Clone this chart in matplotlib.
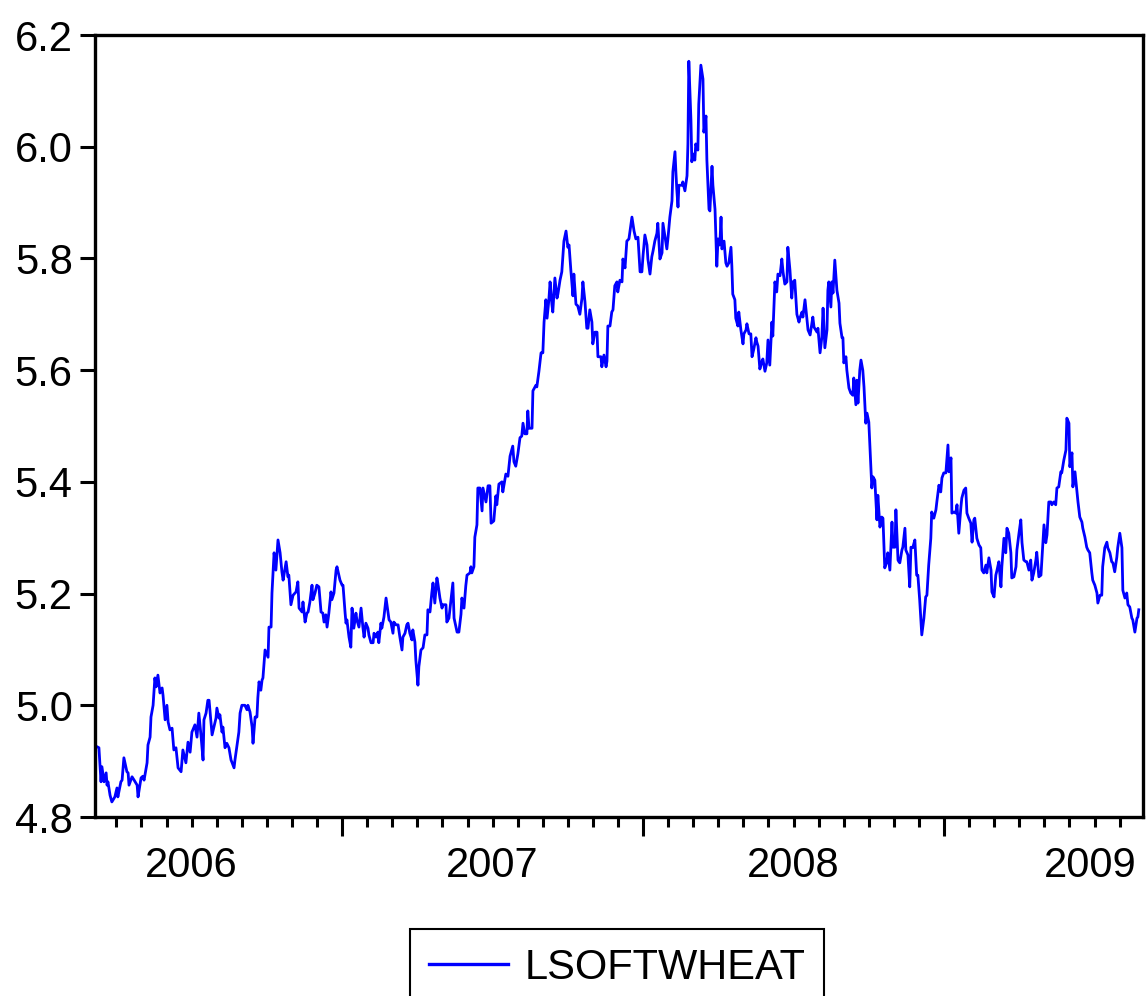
import matplotlib
matplotlib.use("Agg")
import matplotlib.pyplot as plt
import matplotlib.transforms as mtransforms
from matplotlib.lines import Line2D
import numpy as np

plt.rcParams['font.family'] = ['Liberation Sans', 'DejaVu Sans']

# time in years since 2006-01-01 (decimal years)
t_since_2006 = [
0.185,0.192,0.199,0.202,0.209,0.216,0.219,0.222,0.229,0.235,0.245,0.252,0.255,0.265,0.269,0.275,0.285,0.289,0.292,0.302,
0.309,0.319,0.322,0.332,0.338,0.342,0.352,0.355,0.362,0.365,0.372,0.378,0.382,0.388,0.395,0.402,0.405,0.412,0.418,0.422,
0.428,0.435,0.441,0.448,0.455,0.465,0.471,0.481,0.488,0.495,0.501,0.511,0.518,0.524,0.531,0.538,0.541,0.548,0.554,0.558,
0.568,0.574,0.581,0.584,0.591,0.594,0.601,0.604,0.611,0.617,0.624,0.631,0.634,0.641,0.644,0.651,0.657,0.661,0.667,0.677,
0.684,0.687,0.694,0.701,0.704,0.711,0.717,0.720,0.724,0.730,0.734,0.737,0.744,0.754,0.757,0.764,0.767,0.774,0.780,0.784,
0.787,0.794,0.800,0.804,0.814,0.820,0.823,0.830,0.837,0.847,0.853,0.857,0.867,0.870,0.877,0.883,0.887,0.893,0.900,0.903,
0.910,0.916,0.923,0.930,0.936,0.940,0.946,0.950,0.956,0.963,0.966,0.973,0.980,0.983,0.993,1.000,1.003,1.010,1.013,1.016,
1.023,1.029,1.033,1.039,1.046,1.049,1.056,1.063,1.069,1.073,1.079,1.086,1.089,1.096,1.103,1.106,1.113,1.119,1.122,1.129,
1.132,1.139,1.146,1.149,1.156,1.162,1.169,1.172,1.179,1.186,1.192,1.199,1.202,1.209,1.215,1.219,1.225,1.232,1.235,1.242,
1.245,1.252,1.255,1.262,1.269,1.275,1.282,1.285,1.292,1.298,1.302,1.308,1.315,1.318,1.325,1.332,1.335,1.345,1.348,1.355,
1.362,1.368,1.372,
1.382,1.388,1.395,1.398,1.405,1.411,1.415,1.425,1.428,1.431,1.438,1.441,1.448,1.451,1.458,1.465,1.468,1.478,1.485,1.491,
1.495,1.504,1.511,1.514,1.521,1.531,1.534,1.544,1.551,1.558,1.567,1.571,1.577,1.584,1.591,1.597,1.601,1.607,1.614,1.617,
1.621,1.631,1.634,1.644,1.647,1.654,1.661,1.667,1.671,1.677,1.681,1.687,1.691,1.697,1.700,1.707,1.714,1.717,1.724,1.730,
1.737,1.744,1.750,1.754,1.760,1.767,1.770,1.777,1.783,1.790,1.797,1.800,1.807,1.813,1.817,1.823,1.830,1.833,1.840,1.847,
1.850,1.860,1.863,1.870,1.877,1.880,1.883,1.890,1.896,1.900,1.906,1.913,1.916,1.923,1.930,1.933,1.940,1.943,1.946,1.953,
1.960,1.963,1.970,1.976,1.983,1.990,1.996,2.000,2.006,2.013,2.016,2.023,2.029,2.033,2.039,2.046,2.049,2.056,2.063,2.066,
2.073,2.079,2.083,2.089,2.096,2.099,2.106,2.109,2.112,2.116,2.119,2.129,2.132,2.139,2.146,2.149,2.152,2.159,2.162,2.166,
2.172,2.175,2.182,2.185,2.192,2.199,2.202,2.209,2.212,2.219,2.222,2.229,2.232,2.239,2.245,2.249,2.255,2.259,2.262,2.269,
2.275,2.279,2.285,2.292,2.295,2.298,2.305,2.308,2.315,2.318,2.325,2.332,2.335,2.342,2.345,2.352,2.358,2.362,2.368,2.375,
2.378,2.382,2.388,2.395,2.398,2.405,2.411,2.415,2.421,2.428,2.431,2.438,2.444,2.448,2.455,2.461,2.465,2.471,2.478,2.481,
2.488,2.494,2.498,2.504,2.511,2.518,
2.521,2.528,2.531,2.538,2.544,2.548,2.555,2.564,2.568,2.578,2.581,2.588,2.594,2.598,2.604,2.611,2.614,2.617,2.624,2.627,
2.631,2.637,2.644,2.651,2.654,2.661,2.664,2.667,2.674,2.677,2.684,2.690,2.697,2.700,2.707,2.710,2.714,2.720,2.724,2.730,
2.734,2.740,2.744,2.750,2.754,2.760,2.764,2.770,2.777,2.780,2.787,2.793,2.797,2.803,2.810,2.813,2.820,2.827,2.830,2.837,
2.840,2.847,2.850,2.853,2.860,2.863,2.870,2.873,2.880,2.886,2.890,2.896,2.903,2.909,2.913,2.919,2.926,2.933,2.939,2.943,
2.949,2.956,2.959,2.966,2.973,2.976,2.983,2.989,2.993,2.999,3.006,3.013,3.016,3.023,3.026,3.033,3.039,3.043,3.049,3.056,
3.059,3.066,3.072,3.076,3.082,3.089,3.093,3.099,3.102,3.109,3.116,3.122,3.126,3.132,3.139,3.142,3.149,3.156,3.159,3.166,
3.172,3.176,3.182,3.189,3.192,3.199,3.205,3.209,3.215,3.222,3.225,3.232,3.239,3.242,3.249,3.255,3.259,3.265,3.272,3.275,
3.282,3.288,3.292,3.298,3.305,3.308,3.315,3.322,3.325,3.332,3.338,3.342,3.348,3.355,3.358,3.365,3.371,3.375,3.381,3.388,
3.391,3.398,3.405,3.408,3.415,3.418,3.425,3.428,3.435,3.441,3.445,3.451,3.458,3.461,3.468,3.474,3.478,3.484,3.491,3.494,
3.501,3.508,3.511,3.518,3.524,3.527,3.534,3.541,3.544,3.551,3.557,3.561,3.567,3.574,3.577,3.584,3.591,3.594,3.601,3.607,
3.611,3.617,3.624,3.627,3.634,3.641,3.644,3.647,
]

lsoftwheat = [
4.926,4.924,4.863,4.890,4.863,4.879,4.857,4.863,4.839,4.827,4.836,4.852,4.836,4.863,4.866,4.906,4.881,4.879,4.857,4.872,
4.866,4.857,4.836,4.870,4.873,4.866,4.897,4.929,4.943,4.979,5.000,5.049,5.033,5.054,5.022,5.031,5.018,4.974,5.000,4.970,
4.956,4.959,4.920,4.924,4.888,4.881,4.920,4.897,4.934,4.916,4.952,4.965,4.943,4.986,4.947,4.902,4.974,4.986,5.009,5.009,
4.947,4.961,4.977,4.995,4.977,4.983,4.952,4.961,4.924,4.932,4.924,4.902,4.898,4.888,4.902,4.929,4.952,4.986,5.000,5.000,
4.992,5.000,4.988,4.961,4.932,4.979,4.979,5.013,5.042,5.027,5.045,5.049,5.099,5.086,5.140,5.140,5.201,5.273,5.242,5.273,
5.296,5.273,5.239,5.224,5.257,5.230,5.233,5.180,5.197,5.203,5.221,5.174,5.167,5.185,5.149,5.165,5.167,5.185,5.215,5.189,
5.201,5.215,5.212,5.167,5.165,5.149,5.162,5.140,5.165,5.203,5.189,5.201,5.242,5.248,5.224,5.215,5.215,5.165,5.147,5.153,
5.122,5.104,5.174,5.138,5.165,5.153,5.140,5.174,5.140,5.122,5.147,5.138,5.126,5.112,5.112,5.129,5.122,5.131,5.112,5.147,
5.138,5.158,5.192,5.180,5.153,5.149,5.129,5.149,5.144,5.144,5.122,5.099,5.122,5.129,5.144,5.147,5.129,5.117,5.135,5.113,
5.081,5.036,5.069,5.099,5.103,5.126,5.126,5.171,5.167,5.201,5.219,5.183,5.228,5.219,5.192,5.174,5.180,5.180,5.149,5.156,
5.189,5.219,5.156,
5.131,5.131,5.163,5.192,5.174,5.214,5.233,5.237,5.248,5.237,5.248,5.301,5.323,5.389,5.389,5.348,5.389,5.364,5.393,5.393,
5.326,5.330,5.375,5.359,5.396,5.400,5.382,5.414,5.410,5.446,5.464,5.436,5.428,5.450,5.479,5.482,5.505,5.486,5.486,5.527,
5.496,5.496,5.563,5.573,5.570,5.598,5.631,5.631,5.686,5.726,5.693,5.726,5.758,5.718,5.704,5.765,5.729,5.736,5.761,5.776,
5.831,5.849,5.820,5.824,5.779,5.733,5.772,5.718,5.715,5.700,5.729,5.758,5.722,5.675,5.675,5.708,5.686,5.647,5.668,5.668,
5.624,5.624,5.606,5.627,5.606,5.616,5.679,5.679,5.704,5.708,5.751,5.758,5.740,5.761,5.758,5.799,5.783,5.806,5.831,5.835,
5.863,5.874,5.849,5.835,5.838,5.776,5.776,5.806,5.842,5.824,5.799,5.772,5.803,5.813,5.831,5.845,5.863,5.799,5.810,5.863,
5.838,5.817,5.838,5.874,5.903,5.955,5.991,5.955,5.924,5.892,5.931,5.931,5.937,5.921,5.948,6.005,6.153,6.048,5.973,5.987,
5.976,6.005,5.994,6.076,6.146,6.121,6.026,6.055,5.976,5.888,5.885,5.965,5.931,5.888,5.786,5.835,5.824,5.874,5.817,5.831,
5.792,5.786,5.792,5.820,5.786,5.736,5.726,5.693,5.679,5.704,5.672,5.647,5.665,5.672,5.683,5.665,5.665,5.624,5.638,5.658,
5.650,5.643,5.602,5.616,5.620,5.598,5.613,5.654,5.609,5.686,5.661,5.758,5.740,5.772,5.769,5.799,5.776,5.754,5.758,5.820,
5.779,5.729,5.758,5.761,5.700,5.686,
5.693,5.704,5.695,5.726,5.693,5.672,5.663,5.695,5.677,5.668,5.675,5.631,5.659,5.711,5.640,5.672,5.743,5.758,5.713,5.758,
5.738,5.797,5.743,5.720,5.684,5.658,5.658,5.613,5.624,5.600,5.568,5.559,5.555,5.586,5.538,5.582,5.541,5.600,5.618,5.600,
5.570,5.505,5.523,5.507,5.461,5.389,5.409,5.403,5.332,5.376,5.319,5.337,5.335,5.246,5.257,5.273,5.242,5.328,5.283,5.283,
5.350,5.260,5.257,5.255,5.278,5.283,5.317,5.278,5.269,5.212,5.283,5.282,5.296,5.233,5.233,5.189,5.126,5.156,5.194,5.197,
5.251,5.299,5.346,5.335,5.350,5.364,5.394,5.382,5.407,5.416,5.416,5.466,5.418,5.443,5.344,5.346,5.344,5.359,5.308,5.355,
5.371,5.385,5.389,5.344,5.335,5.326,5.292,5.332,5.335,5.299,5.287,5.282,5.242,5.237,5.251,5.237,5.264,5.242,5.203,5.194,
5.233,5.242,5.257,5.212,5.248,5.299,5.273,5.317,5.308,5.273,5.228,5.230,5.248,5.278,5.308,5.332,5.291,5.260,5.257,5.257,
5.242,5.260,5.224,5.237,5.260,5.274,5.230,5.233,5.260,5.323,5.291,5.305,5.364,5.364,5.359,5.364,5.359,5.389,5.391,5.418,
5.416,5.439,5.457,5.514,5.505,5.427,5.452,5.391,5.418,5.385,5.364,5.337,5.328,5.317,5.301,5.283,5.278,5.273,5.237,5.224,
5.215,5.201,5.183,5.197,5.197,5.248,5.282,5.292,5.282,5.273,5.257,5.255,5.239,5.265,5.282,5.308,5.282,5.206,5.192,5.201,
5.180,5.176,5.156,5.153,5.131,5.156,5.158,5.171,
]

year_labels = ['2006', '2007', '2008', '2009']
year_label_pos = [2006.5, 2007.5, 2008.5, 2009.485]
year_major_ticks = [2007, 2008, 2009]
y_ticks = [4.8, 5.0, 5.2, 5.4, 5.6, 5.8, 6.0, 6.2]
series_name = 'LSOFTWHEAT'

W, H = 1147, 996
fig = plt.figure(figsize=(W / 100, H / 100), dpi=100)
ax = fig.add_axes([95 / W, 1 - 817 / H, (1143 - 95) / W, (817 - 35) / H])

t = 2006 + np.array(t_since_2006)
line, = ax.plot(t, lsoftwheat, color='#0000ff', lw=2.0)

ax.set_xlim(2006.179, 2009.661)
ax.set_ylim(4.8, 6.2)

for s in ax.spines.values():
    s.set_linewidth(2.4)
    s.set_color('black')

ax.set_yticks(y_ticks)
ax.set_yticklabels([f'{v:.1f}' for v in y_ticks])
ax.tick_params(axis='y', which='major', direction='out', length=11, width=2.2,
               pad=5, labelsize=30, right=False)

ax.set_xticks(year_major_ticks)
ax.set_xticklabels([])
minor = [y + m / 12 for y in range(2006, 2010) for m in range(12)]
minor = [m for m in minor if 2006.179 < m < 2009.661 and abs(m - round(m)) > 1e-6]
ax.set_xticks(minor, minor=True)
ax.tick_params(axis='x', which='major', direction='out', length=14, width=2.2, top=False)
ax.tick_params(axis='x', which='minor', direction='out', length=7.5, width=2.2, top=False)

trans = mtransforms.blended_transform_factory(ax.transData, ax.transAxes)
trans = mtransforms.offset_copy(trans, fig=fig, y=-21, units='points')
for lab, pos in zip(year_labels, year_label_pos):
    ax.text(pos, 0, lab, transform=trans, ha='center', va='top', fontsize=30)

handle = Line2D([], [], color='#0000ff', lw=2.4)
leg = fig.legend([handle], [series_name], loc='upper center',
                 bbox_to_anchor=(617 / W, 1 - 929 / H), bbox_transform=fig.transFigure,
                 fontsize=30, frameon=True, fancybox=False, edgecolor='black',
                 framealpha=1, borderpad=0.45, handlelength=1.9, handletextpad=0.4,
                 borderaxespad=0)
leg.get_frame().set_linewidth(1.5)

fig.savefig('out.png', dpi=100)
